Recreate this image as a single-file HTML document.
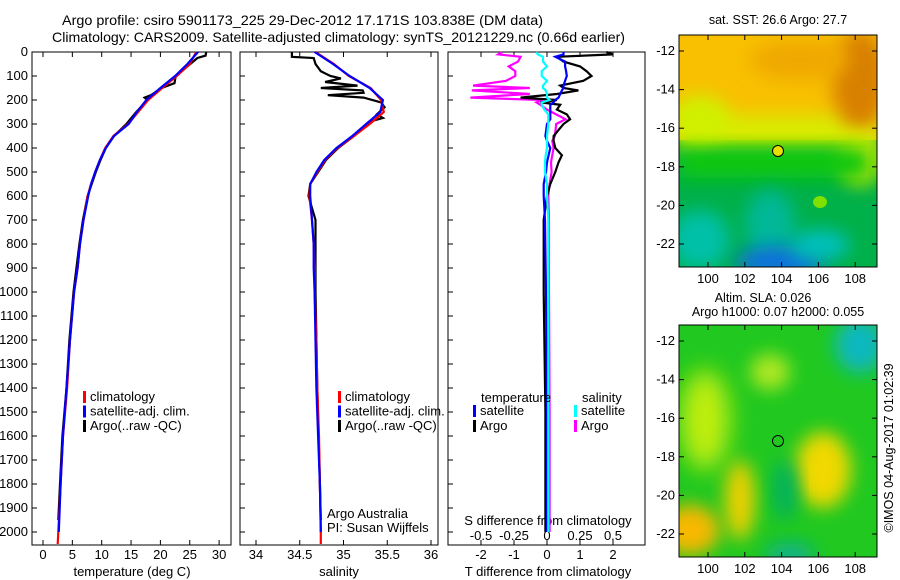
<!DOCTYPE html>
<html><head><meta charset="utf-8"><style>
html,body{margin:0;padding:0;background:#fff;}
svg{display:block;font-family:"Liberation Sans",sans-serif;}
</style></head><body>
<svg id="c" width="900" height="580" viewBox="0 0 900 580">
<defs>
<filter id="b1" x="-50%" y="-50%" width="200%" height="200%"><feGaussianBlur stdDeviation="9"/></filter>
<filter id="b2" x="-50%" y="-50%" width="200%" height="200%"><feGaussianBlur stdDeviation="12"/></filter>
<clipPath id="m1c"><rect x="679" y="35" width="198" height="232"/></clipPath>
<clipPath id="m2c"><rect x="679" y="325" width="198" height="232"/></clipPath>
</defs>
<text x="62" y="25" font-size="14" textLength="481" lengthAdjust="spacingAndGlyphs">Argo profile: csiro 5901173_225 29-Dec-2012 17.171S 103.838E (DM data)</text>
<text x="52" y="42" font-size="14" textLength="573" lengthAdjust="spacingAndGlyphs">Climatology: CARS2009. Satellite-adjusted climatology: synTS_20121229.nc (0.66d earlier)</text>

<g id="maps">
<g clip-path="url(#m1c)">
<rect x="679" y="35" width="198" height="232" fill="#00b048"/>
<rect x="679" y="35" width="198" height="105" fill="#f8c000"/>
<rect x="679" y="115" width="198" height="35" fill="#d8ec00" filter="url(#b1)"/>
<ellipse cx="700" cy="120" rx="30" ry="25" fill="#d0f000" filter="url(#b1)"/>
<ellipse cx="860" cy="80" rx="28" ry="50" fill="#d88000" filter="url(#b1)"/>
<ellipse cx="800" cy="60" rx="50" ry="20" fill="#f0a800" filter="url(#b1)"/>
<ellipse cx="860" cy="160" rx="22" ry="25" fill="#d8ec00" filter="url(#b1)"/>
<rect x="679" y="148" width="190" height="30" fill="#10c810" filter="url(#b1)"/>
<ellipse cx="700" cy="240" rx="30" ry="30" fill="#00c0a8" filter="url(#b1)"/>
<ellipse cx="770" cy="225" rx="25" ry="35" fill="#00b898" filter="url(#b1)"/>
<ellipse cx="780" cy="262" rx="45" ry="16" fill="#1070e0" filter="url(#b1)"/>
<ellipse cx="820" cy="245" rx="30" ry="15" fill="#00c0c0" filter="url(#b1)"/>
<ellipse cx="820" cy="202" rx="7" ry="6" fill="#80e000"/>
</g>
<rect x="679" y="35" width="198" height="232" fill="none" stroke="#000"/>
<circle cx="778" cy="151" r="5.5" fill="#e8e000" stroke="#000"/>
<text x="778" y="24" font-size="12.5" text-anchor="middle">sat. SST: 26.6 Argo: 27.7</text>

<g clip-path="url(#m2c)">
<rect x="679" y="325" width="198" height="232" fill="#20c820"/>
<ellipse cx="705" cy="420" rx="25" ry="50" fill="#c0ee10" filter="url(#b2)"/>
<ellipse cx="740" cy="500" rx="15" ry="40" fill="#f0d000" filter="url(#b1)"/>
<ellipse cx="690" cy="530" rx="30" ry="25" fill="#f8b800" filter="url(#b1)"/>
<ellipse cx="770" cy="372" rx="20" ry="18" fill="#b0e820" filter="url(#b1)"/>
<ellipse cx="823" cy="470" rx="28" ry="38" fill="#f0d800" filter="url(#b1)"/>
<ellipse cx="785" cy="490" rx="12" ry="30" fill="#00b060" filter="url(#b1)"/>
<ellipse cx="860" cy="345" rx="25" ry="28" fill="#10b8c0" filter="url(#b1)"/>
<ellipse cx="790" cy="555" rx="25" ry="12" fill="#10b090" filter="url(#b1)"/>
</g>
<rect x="679" y="325" width="198" height="232" fill="none" stroke="#000"/>
<circle cx="778" cy="441" r="5.5" fill="none" stroke="#000"/>
<text x="763" y="302" font-size="12.5" text-anchor="middle">Altim. SLA: 0.026</text>
<text x="778" y="316" font-size="12.5" text-anchor="middle">Argo h1000: 0.07 h2000: 0.055</text>
<text transform="translate(893,448) rotate(-90)" font-size="12.5" text-anchor="middle">©IMOS 04-Aug-2017 01:02:39</text>
</g>
</svg>
<script>
// ----- data -----
const depthLevels = [0,50,100,150,200,250,300,350,400,450,500,550,600,700,800,900,1000,1200,1400,1600,1800,2000,2050];
const tempClim = [26.1,25.0,22.8,20.3,17.9,16.2,14.5,12.0,10.6,9.7,8.9,8.2,7.6,6.9,6.3,5.9,5.3,4.6,4.1,3.4,3.0,2.6,2.5];
const tempSat  = [26.4,24.6,22.5,20.0,17.6,16.0,14.6,12.1,10.7,9.7,8.9,8.2,7.7,6.9,6.3,5.9,5.3,4.6,4.0,3.4,3.0,2.7];
const argoTDepth = [0,15,25,60,100,130,150,180,190,200,250,300,350,400,450,500,600,700,800,1000,1200,1400,1600,1800,1950];
const argoT = [27.8,27.7,26.3,24.6,22.6,22.4,20.2,18.4,17.3,17.8,15.9,14.2,12.1,10.7,9.8,9.0,7.6,6.8,6.2,5.2,4.5,4.0,3.3,2.9,2.6];
const salClim = [34.68,34.89,35.06,35.31,35.43,35.46,35.30,35.12,34.93,34.79,34.70,34.62,34.61,34.64,34.66,34.67,34.67,34.69,34.70,34.72,34.73,34.74,34.74];
const salSat  = [34.67,34.88,35.07,35.30,35.45,35.42,35.26,35.10,34.92,34.78,34.69,34.62,34.62,34.64,34.66,34.66,34.67,34.68,34.69,34.71,34.73,34.74];
const argoSDepth = [0,20,25,50,80,100,110,125,140,150,160,170,180,190,210,230,260,275,290,350,400,450,500,550,600,700,800,1000,1400,1800,1950];
const argoS = [34.41,34.41,34.66,34.68,34.74,34.85,34.97,34.79,35.16,34.74,35.22,35.23,34.82,35.23,35.43,35.47,35.38,35.45,35.30,35.12,34.94,34.80,34.71,34.62,34.60,34.68,34.68,34.68,34.70,34.73,34.74];
const diffDepth = [0,10,20,40,60,80,100,120,140,150,160,175,190,200,210,220,240,260,280,300,350,370,400,430,460,500,550,600,700,1000,1500,2000];
const dTArgo = [1.8,2.0,0.3,0.5,1.0,1.2,1.35,1.1,0.4,0.5,0.95,0.3,-0.8,0.3,-0.2,0.4,0.3,0.6,0.7,0.5,0.2,0.2,0.25,0.45,0.35,0.25,0.1,0.0,-0.1,-0.1,-0.05,-0.05];
const dTSat  = [0.5,0.5,0.25,0.55,0.55,0.58,0.6,0.55,0.5,0.5,0.45,0.4,0.35,0.25,0.2,0.1,0.1,0.1,0.1,0.0,-0.05,0.0,0.1,0.05,0.0,-0.03,-0.1,-0.1,-0.06,-0.03,0.0,0.0];
const dSArgo = [-0.34,-0.37,-0.2,-0.22,-0.29,-0.24,-0.24,-0.31,-0.56,-0.13,-0.57,-0.13,-0.58,-0.03,-0.08,-0.05,0.0,0.07,0.14,0.07,0.06,0.04,0.05,0.04,0.03,0.035,0.02,0.01,0.015,0.015,0.02,0.02];
const dSSat  = [-0.08,-0.07,-0.03,-0.03,0.0,-0.04,-0.04,0.0,-0.03,-0.03,-0.01,0.0,0.0,0.02,-0.04,-0.04,-0.02,0.01,0.01,0.01,0.0,0.0,0.0,-0.01,-0.015,-0.015,0.0,0.0,0.01,0.01,0.01,0.01];
const depthTicks = [0,100,200,300,400,500,600,700,800,900,1000,1100,1200,1300,1400,1500,1600,1700,1800,1900,2000];
const tempTicks = [0,5,10,15,20,25,30];
const salTicks = [34,34.5,35,35.5,36];
const dTTicks = [-2,-1,0,1,2];
const dSTicks = [-0.5,-0.25,0,0.25,0.5];
const dSTickLabels = ['-0.5','-0.25','0','0.25','0.5'];
const latTicks = [-12,-14,-16,-18,-20,-22];
const lonTicks = [100,102,104,106,108];

// ----- scales -----
const TOP=52, BOT=545;
const yD = d => 52 + d*0.24;
const xT = t => 43 + t*5.87;
const xS = s => 256 + (s-34)*87.5;
const xDT = v => 547 + v*33;
const xDS = v => 547 + v*132;
const yLat1 = l => 51 + (-12 - l)*19.3;
const yLat2 = l => 341 + (-12 - l)*19.3;
const xLon = l => 708 + (l-100)*18.4;

const FS = 13;
const svg = document.getElementById('c');
const NS='http://www.w3.org/2000/svg';
function mk(tag, attrs, parent){const e=document.createElementNS(NS,tag);for(const k in attrs)e.setAttribute(k,attrs[k]);(parent||svg).appendChild(e);return e;}
function txt(x,y,s,anchor,size){const e=mk('text',{x:x,y:y,'font-size':size||FS,'text-anchor':anchor||'start'});e.textContent=s;return e;}

const panels=[{x0:32,x1:231,name:'temperature-panel'},{x0:240,x1:438,name:'salinity-panel'},{x0:448,x1:645,name:'difference-panel'}];
panels.forEach(p=>{
  const r=mk('rect',{x:p.x0,y:TOP,width:p.x1-p.x0,height:BOT-TOP,fill:'none',stroke:'#000'});
  
  
  depthTicks.forEach(d=>{
    const t=mk('line',{x1:p.x0,x2:p.x0+5,y1:yD(d),y2:yD(d),stroke:'#000'});
    
    
  });
});
depthTicks.forEach(d=>{
  const e=txt(28,yD(d)+4,String(d),'end',FS);
  
  
});
function xticks(vals, fx, labels, ylab, name, top){
  vals.forEach((v,i)=>{
    const x=fx(v);
    const l1=mk('line',{x1:x,x2:x,y1:BOT,y2:BOT-5,stroke:'#000'});
    
    
    if(top){const l2=mk('line',{x1:x,x2:x,y1:TOP,y2:TOP+5,stroke:'#000'});
      
      }
    const e=txt(x,ylab,labels?labels[i]:String(v),'middle',FS);
    
    
  });
}
xticks(tempTicks,xT,null,559,'temperature',true);
xticks(salTicks,xS,null,559,'salinity',true);
xticks(dTTicks,xDT,null,559,'t-difference',true);
dSTicks.forEach((v,i)=>{
  const e=txt(xDS(v),540,dSTickLabels[i],'middle',FS);
  
  
});
[['temperature (deg C)',132,'x-axis-title-temperature'],['salinity',339,'x-axis-title-salinity'],['T difference from climatology',548,'x-axis-title-t-difference']].forEach(a=>{
  const e=txt(a[1],576,a[0],'middle',FS);
  
  
});
let e0=txt(548,525,'S difference from climatology','middle',FS);



function line(xs, ds, fx, color, name){
  const pts=xs.map((v,i)=>fx(v).toFixed(1)+','+yD(ds[i]).toFixed(1)).join(' ');
  const pl=mk('polyline',{points:pts,fill:'none',stroke:color,'stroke-width':2.2,'stroke-linejoin':'miter'});
  
  
}
line(argoT,argoTDepth,xT,'#000','argo-temperature-line');
line(tempClim,depthLevels,xT,'#f00','climatology-temperature-line');
line(tempSat,depthLevels.slice(0,tempSat.length),xT,'#00f','satellite-temperature-line');
line(argoS,argoSDepth,xS,'#000','argo-salinity-line');
line(salClim,depthLevels,xS,'#f00','climatology-salinity-line');
line(salSat,depthLevels.slice(0,salSat.length),xS,'#00f','satellite-salinity-line');
line(dSArgo,diffDepth,xDS,'#f0f','argo-s-difference-line');
line(dTArgo,diffDepth,xDT,'#000','argo-t-difference-line');
line(dTSat,diffDepth,xDT,'#00f','satellite-t-difference-line');
line(dSSat,diffDepth,xDS,'#0ff','satellite-s-difference-line');

function legend(x,y,color,label){
  const b=mk('rect',{x:x-1,y:y-6,width:3,height:12,fill:color});
  
  
  const t=txt(x+6,y+4,label,'start',FS);
  
  
}
[[84,'#f00','climatology'],[84,'#00f','satellite-adj. clim.'],[84,'#000','Argo(..raw -QC)']].forEach((a,i)=>legend(a[0],397+i*14.5,a[1],a[2]));
[[339,'#f00','climatology'],[339,'#00f','satellite-adj. clim.'],[339,'#000','Argo(..raw -QC)']].forEach((a,i)=>legend(a[0],397+i*14.5,a[1],a[2]));
let lt=txt(481,402,'temperature','start',FS);


let ls=txt(582,402,'salinity','start',FS);


legend(474,411,'#00f','satellite'); legend(474,426,'#000','Argo');
legend(575,411,'#0ff','satellite'); legend(575,426,'#f0f','Argo');
let c1=txt(327,518,'Argo Australia','start',FS);


let c2=txt(327,532,'PI: Susan Wijffels','start',FS);



// map axes
[[yLat1,35,267],[yLat2,325,557]].forEach(m=>{
  latTicks.forEach(l=>{
    const y=m[0](l);
    const a=mk('line',{x1:679,x2:684,y1:y,y2:y,stroke:'#000'});
    
    
    const b=mk('line',{x1:872,x2:877,y1:y,y2:y,stroke:'#000'});
    
    
    const t=txt(675,y+4,String(l),'end',FS);
    
    
  });
  lonTicks.forEach(l=>{
    const x=xLon(l);
    const a=mk('line',{x1:x,x2:x,y1:m[1],y2:m[1]+5,stroke:'#000'});
    
    
    const b=mk('line',{x1:x,x2:x,y1:m[2],y2:m[2]-5,stroke:'#000'});
    
    
    const t=txt(x,m[2]+16,String(l),'middle',FS);
    
    
  });
});
</script>
</body></html>
